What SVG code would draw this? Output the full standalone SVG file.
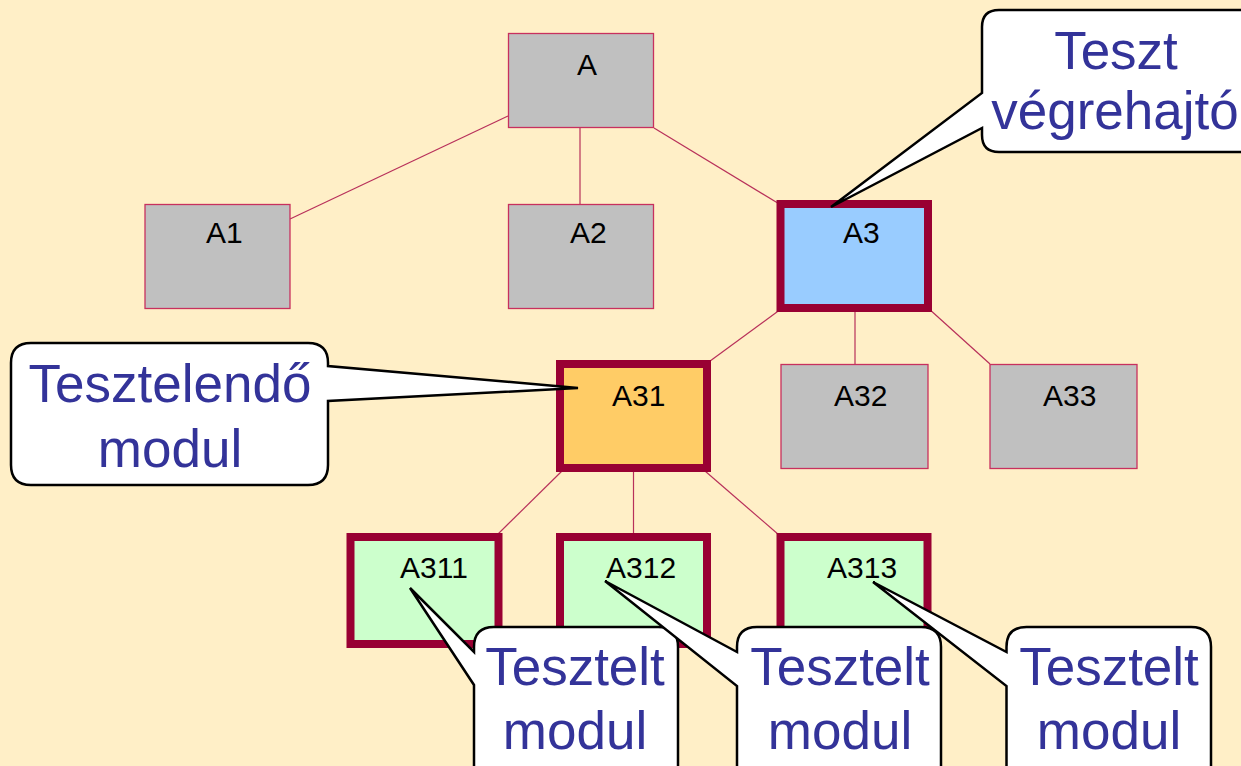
<svg xmlns="http://www.w3.org/2000/svg" width="1241" height="766" viewBox="0 0 1241 766">
<style>
.bg{fill:#FFEFC7}
.thin{stroke:#C8305E;stroke-width:1.3}
.thick{stroke:#990033;stroke-width:8}
.gray{fill:#C0C0C0}
.blue{fill:#99CCFF}
.orange{fill:#FFCC66}
.green{fill:#CCFFCC}
.lbl{font-family:"Liberation Sans",Arial,sans-serif;font-size:30px;fill:#000}
.conn{stroke:#B8305A;stroke-width:1.2;fill:none}
.call{fill:#FFFFFF;stroke:#000;stroke-width:2.5;stroke-linejoin:miter}
.ctext{font-family:"Liberation Sans",Arial,sans-serif;font-size:53px;fill:#333399;text-anchor:middle}
</style>
<rect class="bg" x="0" y="0" width="1241" height="766"/>
<g id="connectors">
<line class="conn" x1="508" y1="116" x2="290" y2="219"/>
<line class="conn" x1="580" y1="128" x2="580" y2="204"/>
<line class="conn" x1="654" y1="128" x2="781" y2="205"/>
<line class="conn" x1="781" y1="309" x2="706" y2="364"/>
<line class="conn" x1="855" y1="308" x2="855" y2="364"/>
<line class="conn" x1="928" y1="308" x2="990" y2="364"/>
<line class="conn" x1="563" y1="470" x2="496" y2="536"/>
<line class="conn" x1="633.5" y1="468" x2="633.5" y2="537"/>
<line class="conn" x1="705" y1="471" x2="779" y2="535"/>
</g>
<g id="node-A">
<rect class="gray thin" x="508.5" y="33.5" width="145" height="94"/>
<text class="lbl" x="577" y="75">A</text>
</g>
<g id="node-A1">
<rect class="gray thin" x="145" y="204.5" width="145" height="104"/>
<text class="lbl" x="206" y="243">A1</text>
</g>
<g id="node-A2">
<rect class="gray thin" x="508.5" y="204.5" width="145" height="104"/>
<text class="lbl" x="570" y="243">A2</text>
</g>
<g id="node-A3">
<rect class="blue thick" x="780.5" y="204" width="147.5" height="104"/>
<text class="lbl" x="843" y="243">A3</text>
</g>
<g id="node-A31">
<rect class="orange thick" x="560" y="364" width="147" height="104"/>
<text class="lbl" x="612" y="406">A31</text>
</g>
<g id="node-A32">
<rect class="gray thin" x="781" y="364.5" width="147" height="104"/>
<text class="lbl" x="834" y="406">A32</text>
</g>
<g id="node-A33">
<rect class="gray thin" x="990" y="364.5" width="147" height="104"/>
<text class="lbl" x="1043" y="406">A33</text>
</g>
<g id="node-A311">
<rect class="green thick" x="350.5" y="537" width="148" height="107"/>
<text class="lbl" x="400" y="578">A311</text>
</g>
<g id="node-A312">
<rect class="green thick" x="560" y="537" width="147" height="107"/>
<text class="lbl" x="606" y="578">A312</text>
</g>
<g id="node-A313">
<rect class="green thick" x="780.5" y="537" width="147" height="107"/>
<text class="lbl" x="827" y="578">A313</text>
</g>
<g id="callout-vegrehajto">
<path class="call" d="M999 10 H1260 V152 H999 Q982 152 982 135 V128 L831 207 L982 93 V27 Q982 10 999 10 Z"/>
<text class="ctext" x="1116" y="69">Teszt</text>
<text class="ctext" x="1115" y="129">végrehajtó</text>
</g>
<g id="callout-tesztelendo">
<path class="call" d="M31 343 H308 Q328 343 328 363 V366 L578 388 L328 401 V465 Q328 485 308 485 H31 Q11 485 11 465 V363 Q11 343 31 343 Z"/>
<text class="ctext" x="170" y="402">Tesztelendő</text>
<text class="ctext" x="170" y="467">modul</text>
</g>
<g id="callout-tesztelt-1">
<path class="call" d="M494 627 H658 Q678 627 678 647 V800 H474 V685 L410 588 L474 652 V647 Q474 627 494 627 Z"/>
<text class="ctext" x="575" y="685">Tesztelt</text>
<text class="ctext" x="575" y="749">modul</text>
</g>
<g id="callout-tesztelt-2">
<path class="call" d="M757 627 H921 Q941 627 941 647 V800 H737 V686 L605 581 L737 652 V647 Q737 627 757 627 Z"/>
<text class="ctext" x="840" y="685">Tesztelt</text>
<text class="ctext" x="840" y="749">modul</text>
</g>
<g id="callout-tesztelt-3">
<path class="call" d="M1026.5 627 H1191 Q1211 627 1211 647 V800 H1006.5 V686 L873 582 L1006.5 652 V647 Q1006.5 627 1026.5 627 Z"/>
<text class="ctext" x="1109" y="685">Tesztelt</text>
<text class="ctext" x="1109" y="749">modul</text>
</g>
</svg>
